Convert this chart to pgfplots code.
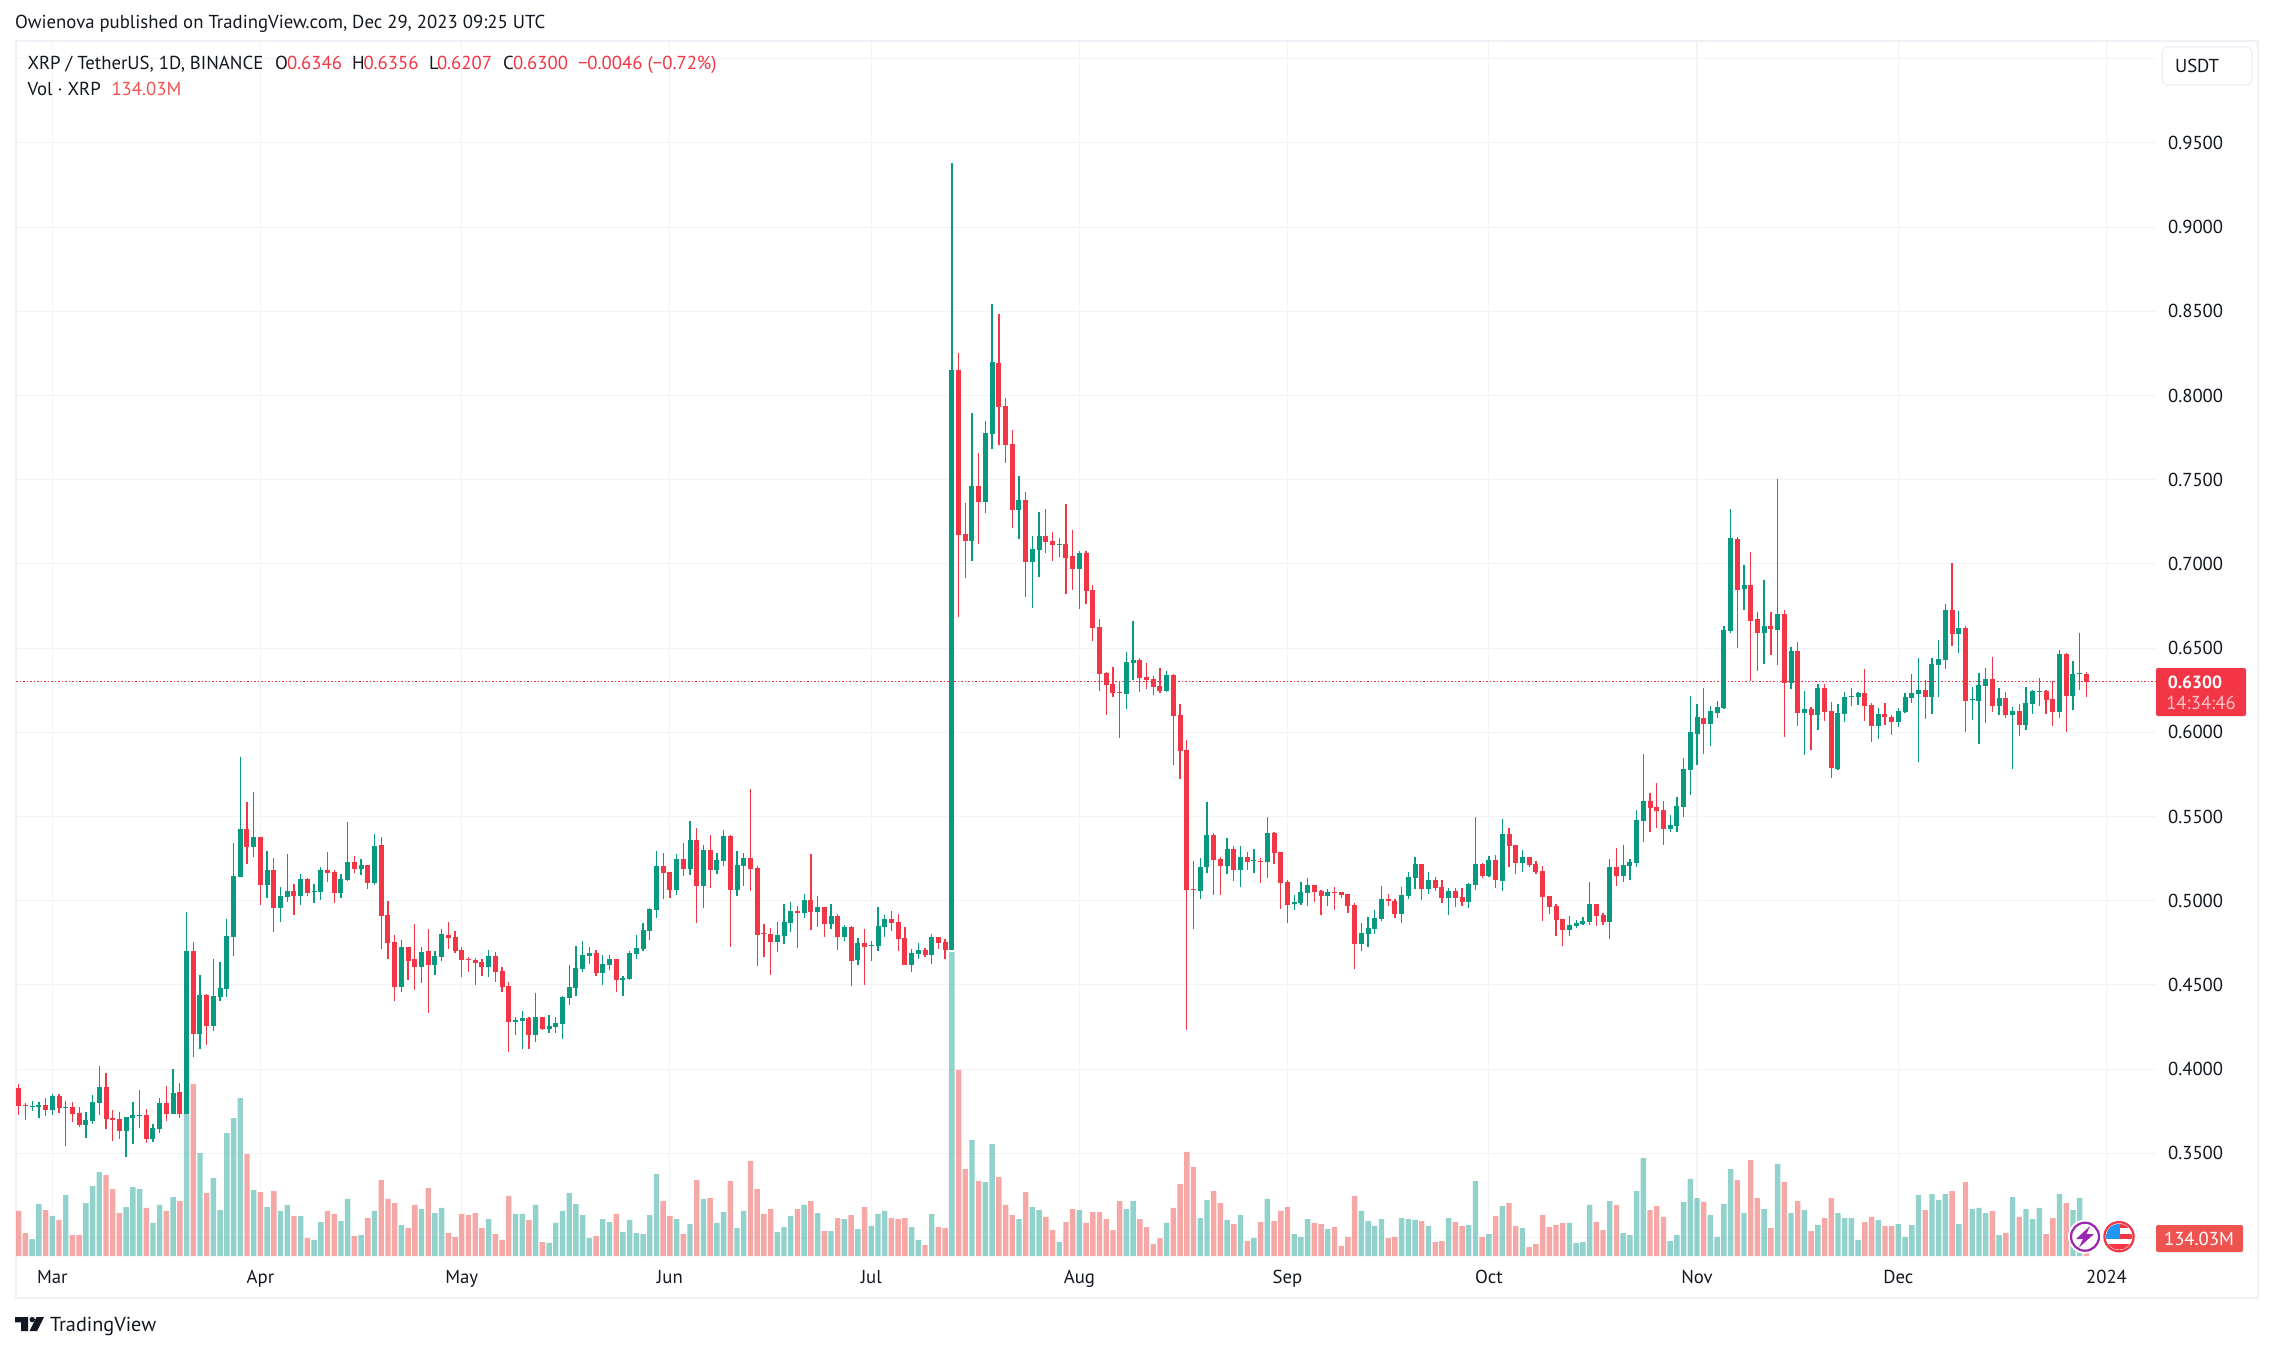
\documentclass[border=0pt]{standalone}
\usepackage{pgfplots}
\usepackage{pgfplotstable}
\usepackage{fontspec}
\pgfplotsset{compat=1.18}
\setmainfont{PT Sans}
\definecolor{upc}{HTML}{089981}
\definecolor{dnc}{HTML}{F23645}
\definecolor{vup}{HTML}{26A69A}
\definecolor{vdn}{HTML}{EF5350}
\definecolor{gridc}{HTML}{F3F4F6}
\definecolor{framec}{HTML}{F0F0F7}
\definecolor{txt}{HTML}{131722}
\pgfplotstableread{
d o h l c v
-5 0.3887 0.3911 0.3727 0.3780 345
-4 0.3788 0.3798 0.3697 0.3780 176
-3 0.3774 0.3810 0.3750 0.3780 130
-2 0.3774 0.3804 0.3709 0.3786 398
-1 0.3786 0.3828 0.3721 0.3757 352
0 0.3757 0.3851 0.3727 0.3840 306
1 0.3840 0.3851 0.3739 0.3768 276
2 0.3768 0.3810 0.3543 0.3774 467
3 0.3774 0.3804 0.3685 0.3733 161
4 0.3739 0.3774 0.3655 0.3667 161
5 0.3667 0.3744 0.3590 0.3697 406
6 0.3691 0.3846 0.3673 0.3804 536
7 0.3798 0.4018 0.3727 0.3893 643
8 0.3893 0.3976 0.3644 0.3703 620
9 0.3709 0.3757 0.3572 0.3697 513
10 0.3703 0.3744 0.3584 0.3632 329
11 0.3632 0.3715 0.3477 0.3715 375
12 0.3709 0.3804 0.3554 0.3727 528
13 0.3721 0.3875 0.3649 0.3727 513
14 0.3727 0.3762 0.3560 0.3584 368
15 0.3584 0.3673 0.3566 0.3649 253
16 0.3644 0.3828 0.3620 0.3798 391
17 0.3798 0.3899 0.3691 0.3733 345
18 0.3733 0.4000 0.3733 0.3857 452
19 0.3863 0.3917 0.3709 0.3733 421
20 0.3733 0.4933 0.3733 0.4701 1586
21 0.4701 0.4754 0.4071 0.4208 1318
22 0.4208 0.4558 0.4119 0.4440 789
23 0.4440 0.4445 0.4142 0.4255 483
24 0.4255 0.4653 0.4226 0.4434 597
25 0.4428 0.4636 0.4404 0.4481 352
26 0.4475 0.4891 0.4428 0.4790 942
27 0.4784 0.5342 0.4671 0.5146 1057
28 0.5140 0.5853 0.5140 0.5426 1210
29 0.5426 0.5586 0.5218 0.5319 781
30 0.5319 0.5645 0.5259 0.5378 505
31 0.5378 0.5378 0.4974 0.5093 490
32 0.5093 0.5295 0.5016 0.5182 375
33 0.5182 0.5253 0.4814 0.4956 498
34 0.4956 0.5081 0.4873 0.5028 345
35 0.5022 0.5277 0.4992 0.5057 391
36 0.5057 0.5099 0.4915 0.5028 306
37 0.5028 0.5158 0.4974 0.5129 306
38 0.5129 0.5134 0.5028 0.5045 138
39 0.5051 0.5099 0.4986 0.5057 123
40 0.5051 0.5200 0.5004 0.5182 260
41 0.5182 0.5289 0.5111 0.5164 345
42 0.5170 0.5182 0.4986 0.5045 322
43 0.5045 0.5158 0.5016 0.5129 268
44 0.5123 0.5467 0.5117 0.5230 437
45 0.5230 0.5265 0.5164 0.5188 153
46 0.5188 0.5247 0.5152 0.5212 161
47 0.5212 0.5212 0.5069 0.5105 291
48 0.5105 0.5396 0.5093 0.5325 345
49 0.5331 0.5378 0.4713 0.4909 582
50 0.4915 0.4998 0.4653 0.4748 437
51 0.4754 0.4796 0.4404 0.4487 406
52 0.4487 0.4766 0.4457 0.4725 237
53 0.4725 0.4725 0.4529 0.4641 214
54 0.4653 0.4861 0.4469 0.4606 391
55 0.4606 0.4725 0.4511 0.4695 360
56 0.4701 0.4832 0.4333 0.4618 521
57 0.4618 0.4701 0.4558 0.4671 329
58 0.4665 0.4832 0.4641 0.4802 368
59 0.4796 0.4873 0.4713 0.4778 176
60 0.4784 0.4820 0.4689 0.4701 146
61 0.4707 0.4725 0.4546 0.4647 322
62 0.4653 0.4665 0.4576 0.4647 314
63 0.4647 0.4659 0.4499 0.4630 329
64 0.4636 0.4653 0.4552 0.4606 214
65 0.4606 0.4707 0.4546 0.4671 283
66 0.4671 0.4695 0.4517 0.4576 168
67 0.4582 0.4606 0.4457 0.4487 123
68 0.4493 0.4517 0.4101 0.4279 460
69 0.4279 0.4309 0.4202 0.4291 322
70 0.4285 0.4344 0.4119 0.4303 322
71 0.4303 0.4309 0.4119 0.4202 276
72 0.4202 0.4451 0.4160 0.4309 391
73 0.4309 0.4309 0.4231 0.4237 107
74 0.4237 0.4321 0.4214 0.4255 100
75 0.4249 0.4309 0.4214 0.4273 253
76 0.4267 0.4433 0.4178 0.4427 345
77 0.4421 0.4617 0.4380 0.4487 483
78 0.4481 0.4730 0.4433 0.4600 398
79 0.4594 0.4760 0.4576 0.4677 314
80 0.4671 0.4724 0.4623 0.4689 138
81 0.4689 0.4707 0.4552 0.4570 153
82 0.4570 0.4677 0.4499 0.4623 283
83 0.4618 0.4677 0.4588 0.4653 260
84 0.4653 0.4653 0.4457 0.4528 322
85 0.4528 0.4552 0.4433 0.4540 184
86 0.4534 0.4701 0.4528 0.4689 276
87 0.4683 0.4796 0.4653 0.4719 176
88 0.4713 0.4867 0.4701 0.4825 168
89 0.4819 0.4956 0.4766 0.4950 314
90 0.4944 0.5295 0.4897 0.5206 628
91 0.5206 0.5283 0.5010 0.5164 421
92 0.5170 0.5170 0.5015 0.5063 306
93 0.5063 0.5277 0.5033 0.5247 283
94 0.5247 0.5342 0.5146 0.5188 168
95 0.5188 0.5473 0.5152 0.5360 245
96 0.5360 0.5431 0.4867 0.5087 582
97 0.5087 0.5330 0.4956 0.5301 437
98 0.5301 0.5390 0.5075 0.5182 444
99 0.5182 0.5283 0.5158 0.5241 253
100 0.5235 0.5419 0.5206 0.5384 337
101 0.5384 0.5390 0.4724 0.5063 574
102 0.5063 0.5295 0.5027 0.5211 214
103 0.5206 0.5283 0.5087 0.5253 345
104 0.5253 0.5663 0.5057 0.5188 728
105 0.5194 0.5206 0.4612 0.4796 513
106 0.4808 0.4861 0.4665 0.4802 322
107 0.4802 0.4837 0.4558 0.4754 360
108 0.4754 0.4873 0.4695 0.4796 184
109 0.4790 0.4980 0.4742 0.4873 222
110 0.4867 0.4992 0.4814 0.4938 306
111 0.4938 0.4968 0.4718 0.4926 360
112 0.4926 0.5039 0.4897 0.5004 391
113 0.5004 0.5277 0.4825 0.4932 421
114 0.4932 0.5027 0.4843 0.4962 329
115 0.4962 0.4962 0.4784 0.4861 191
116 0.4861 0.4980 0.4831 0.4909 191
117 0.4909 0.4920 0.4707 0.4784 291
118 0.4784 0.4855 0.4760 0.4843 283
119 0.4843 0.4849 0.4493 0.4641 314
120 0.4647 0.4778 0.4617 0.4748 207
121 0.4748 0.4831 0.4499 0.4724 375
122 0.4730 0.4760 0.4641 0.4736 230
123 0.4730 0.4962 0.4701 0.4849 322
124 0.4843 0.4914 0.4784 0.4891 345
125 0.4891 0.4938 0.4819 0.4867 291
126 0.4873 0.4920 0.4701 0.4772 283
127 0.4778 0.4843 0.4617 0.4617 291
128 0.4617 0.4713 0.4576 0.4689 222
129 0.4683 0.4748 0.4653 0.4707 123
130 0.4707 0.4718 0.4665 0.4677 84
131 0.4677 0.4802 0.4623 0.4784 322
132 0.4784 0.4784 0.4713 0.4748 222
133 0.4754 0.4772 0.4653 0.4707 214
134 0.4707 0.9378 0.4707 0.8154 2329
135 0.8154 0.8253 0.6686 0.7174 1425
136 0.7179 0.7362 0.6918 0.7137 666
137 0.7137 0.7898 0.7019 0.7463 888
138 0.7463 0.7661 0.7120 0.7369 574
139 0.7369 0.7851 0.7304 0.7780 567
140 0.7773 0.8546 0.7684 0.8201 858
141 0.8196 0.8485 0.7708 0.7933 605
142 0.7940 0.7987 0.7602 0.7708 391
143 0.7715 0.7797 0.7214 0.7322 314
144 0.7322 0.7524 0.7149 0.7381 283
145 0.7381 0.7428 0.6806 0.7012 490
146 0.7012 0.7163 0.6740 0.7090 375
147 0.7085 0.7311 0.6923 0.7163 352
148 0.7163 0.7327 0.7062 0.7132 299
149 0.7137 0.7191 0.7019 0.7113 199
150 0.7113 0.7156 0.7043 0.7120 107
151 0.7120 0.7358 0.6822 0.7036 260
152 0.7048 0.7203 0.6846 0.6972 360
153 0.6972 0.7078 0.6733 0.7066 352
154 0.7066 0.7078 0.6763 0.6841 253
155 0.6846 0.6876 0.6542 0.6620 337
156 0.6627 0.6674 0.6247 0.6348 337
157 0.6355 0.6357 0.6103 0.6282 283
158 0.6289 0.6390 0.6211 0.6235 199
159 0.6242 0.6301 0.5967 0.6235 421
160 0.6228 0.6479 0.6141 0.6418 360
161 0.6413 0.6662 0.6312 0.6430 421
162 0.6430 0.6441 0.6242 0.6324 283
163 0.6329 0.6413 0.6258 0.6312 222
164 0.6317 0.6336 0.6223 0.6270 92
165 0.6277 0.6383 0.6235 0.6247 138
166 0.6247 0.6366 0.6242 0.6340 253
167 0.6340 0.6348 0.5806 0.6099 368
168 0.6103 0.6169 0.5723 0.5889 551
169 0.5895 0.5954 0.4232 0.5063 797
170 0.5069 0.5235 0.4832 0.5063 682
171 0.5057 0.5253 0.5010 0.5200 291
172 0.5200 0.5586 0.5164 0.5390 429
173 0.5390 0.5402 0.5033 0.5241 498
174 0.5247 0.5259 0.5033 0.5206 406
175 0.5206 0.5372 0.5158 0.5307 276
176 0.5307 0.5325 0.5117 0.5182 245
177 0.5182 0.5325 0.5081 0.5259 314
178 0.5259 0.5289 0.5182 0.5230 115
179 0.5235 0.5307 0.5164 0.5241 138
180 0.5235 0.5253 0.5105 0.5230 260
181 0.5230 0.5497 0.5134 0.5402 437
182 0.5402 0.5408 0.5218 0.5283 268
183 0.5289 0.5289 0.4950 0.5105 345
184 0.5111 0.5123 0.4867 0.4974 375
185 0.4980 0.5033 0.4944 0.4992 168
186 0.4986 0.5111 0.4974 0.5051 146
187 0.5045 0.5134 0.4968 0.5093 283
188 0.5093 0.5093 0.4992 0.5051 253
189 0.5057 0.5063 0.4915 0.5028 245
190 0.5028 0.5069 0.4968 0.5051 207
191 0.5051 0.5081 0.4944 0.5045 222
192 0.5051 0.5051 0.5016 0.5033 77
193 0.5039 0.5039 0.4927 0.4968 146
194 0.4974 0.4986 0.4594 0.4742 460
195 0.4742 0.4867 0.4701 0.4808 345
196 0.4802 0.4903 0.4725 0.4837 268
197 0.4832 0.4944 0.4802 0.4897 230
198 0.4891 0.5087 0.4879 0.5010 283
199 0.5010 0.5039 0.4968 0.4998 138
200 0.4998 0.5010 0.4897 0.4921 146
201 0.4921 0.5081 0.4867 0.5033 291
202 0.5028 0.5170 0.5010 0.5140 283
203 0.5134 0.5259 0.5069 0.5218 276
204 0.5218 0.5218 0.5004 0.5069 268
205 0.5069 0.5170 0.5039 0.5123 230
206 0.5123 0.5140 0.5057 0.5075 107
207 0.5081 0.5123 0.4986 0.5016 115
208 0.5016 0.5075 0.4915 0.5057 291
209 0.5057 0.5075 0.4962 0.5016 260
210 0.5022 0.5075 0.4968 0.4992 230
211 0.4992 0.5105 0.4956 0.5099 237
212 0.5093 0.5497 0.5063 0.5218 574
213 0.5218 0.5224 0.5134 0.5146 146
214 0.5146 0.5265 0.5140 0.5241 168
215 0.5241 0.5271 0.5075 0.5123 306
216 0.5117 0.5485 0.5057 0.5396 383
217 0.5396 0.5431 0.5200 0.5325 406
218 0.5331 0.5331 0.5158 0.5224 230
219 0.5224 0.5301 0.5170 0.5259 214
220 0.5259 0.5259 0.5200 0.5212 69
221 0.5218 0.5235 0.5158 0.5170 92
222 0.5176 0.5206 0.4879 0.5022 314
223 0.5028 0.5028 0.4921 0.4962 222
224 0.4968 0.4980 0.4790 0.4885 237
225 0.4891 0.4891 0.4731 0.4826 253
226 0.4826 0.4909 0.4790 0.4855 253
227 0.4849 0.4885 0.4838 0.4867 100
228 0.4861 0.4903 0.4855 0.4879 107
229 0.4873 0.5111 0.4855 0.4980 391
230 0.4980 0.4980 0.4849 0.4909 260
231 0.4915 0.4927 0.4855 0.4873 199
232 0.4873 0.5247 0.4772 0.5200 421
233 0.5200 0.5313 0.5087 0.5146 391
234 0.5146 0.5331 0.5111 0.5212 176
235 0.5206 0.5247 0.5123 0.5230 161
236 0.5224 0.5538 0.5200 0.5479 498
237 0.5473 0.5871 0.5348 0.5592 751
238 0.5592 0.5639 0.5408 0.5550 352
239 0.5556 0.5699 0.5431 0.5532 383
240 0.5538 0.5592 0.5331 0.5426 299
241 0.5426 0.5509 0.5408 0.5449 115
242 0.5443 0.5616 0.5408 0.5562 161
243 0.5556 0.5847 0.5497 0.5782 414
244 0.5776 0.6216 0.5627 0.6002 590
245 0.5990 0.6168 0.5806 0.6091 444
246 0.6085 0.6263 0.5871 0.6049 414
247 0.6049 0.6156 0.5919 0.6126 314
248 0.6115 0.6186 0.6085 0.6150 146
249 0.6144 0.6631 0.6138 0.6608 398
250 0.6602 0.7326 0.6590 0.7154 666
251 0.7148 0.7160 0.6501 0.6845 582
252 0.6851 0.6994 0.6726 0.6875 329
253 0.6875 0.7071 0.6305 0.6661 735
254 0.6673 0.6715 0.6364 0.6590 444
255 0.6590 0.6905 0.6406 0.6631 360
256 0.6631 0.6715 0.6459 0.6614 214
257 0.6608 0.7503 0.6400 0.6703 705
258 0.6703 0.6726 0.5972 0.6293 567
259 0.6293 0.6507 0.6257 0.6483 329
260 0.6483 0.6536 0.6037 0.6115 421
261 0.6115 0.6245 0.5865 0.6138 352
262 0.6138 0.6150 0.5895 0.6103 191
263 0.6103 0.6287 0.6014 0.6263 237
264 0.6263 0.6287 0.6067 0.6120 291
265 0.6126 0.6180 0.5728 0.5788 444
266 0.5782 0.6168 0.5776 0.6115 329
267 0.6109 0.6239 0.6061 0.6210 291
268 0.6210 0.6263 0.6156 0.6216 291
269 0.6210 0.6239 0.6162 0.6233 123
270 0.6233 0.6376 0.6067 0.6156 260
271 0.6162 0.6174 0.5942 0.6037 299
272 0.6037 0.6144 0.5960 0.6109 276
273 0.6109 0.6174 0.6043 0.6091 230
274 0.6091 0.6103 0.5984 0.6061 230
275 0.6061 0.6144 0.6031 0.6126 245
276 0.6120 0.6233 0.6115 0.6210 146
277 0.6204 0.6346 0.6174 0.6233 237
278 0.6227 0.6441 0.5824 0.6251 467
279 0.6251 0.6311 0.6079 0.6210 352
280 0.6210 0.6441 0.6109 0.6406 475
281 0.6400 0.6548 0.6210 0.6435 429
282 0.6429 0.6762 0.6376 0.6726 475
283 0.6726 0.7006 0.6513 0.6584 498
284 0.6584 0.6720 0.6471 0.6619 245
285 0.6619 0.6631 0.6002 0.6186 567
286 0.6192 0.6269 0.6073 0.6198 360
287 0.6186 0.6352 0.5930 0.6281 368
288 0.6275 0.6382 0.6055 0.6317 329
289 0.6317 0.6447 0.6120 0.6156 345
290 0.6156 0.6263 0.6103 0.6204 161
291 0.6204 0.6239 0.6085 0.6103 176
292 0.6103 0.6150 0.5782 0.6126 452
293 0.6126 0.6168 0.5978 0.6043 299
294 0.6043 0.6269 0.6014 0.6174 360
295 0.6168 0.6251 0.6109 0.6245 283
296 0.6239 0.6322 0.6156 0.6245 368
297 0.6245 0.6251 0.6109 0.6192 168
298 0.6198 0.6305 0.6037 0.6120 291
299 0.6120 0.6489 0.6085 0.6465 475
300 0.6465 0.6471 0.6002 0.6216 406
301 0.6216 0.6423 0.6132 0.6346 352
302 0.6346 0.6590 0.6251 0.6352 444
303 0.6346 0.6356 0.6207 0.6300 134.03
}\ohlc
\pgfplotsset{
  chartbox/.style={
    at={(6.4pt,-502.4pt)}, anchor=south west, scale only axis,
    width=856pt, height=485.6pt,
    xmin=-5.407, xmax=313.38, clip=true},
  priceaxis/.style={ymin=0.28902, ymax=1.00992},
  upbar/.style={error bars/.cd, y dir=minus, y explicit, error mark=none,
    error bar style={color=upc, line width=#1}},
  dnbar/.style={error bars/.cd, y dir=minus, y explicit, error mark=none,
    error bar style={color=dnc, line width=#1}},
}
\newcommand\tf{\fontsize{7.5}{9}\selectfont}
\begin{document}
\begin{tikzpicture}[x=0.4pt,y=-0.4pt,every node/.style={inner sep=0pt,outer sep=0pt}]
\fill[white] (0,0) rectangle (2273,1351);
\draw[framec,line width=0.8pt] (15.5,41.5) rectangle (2257.5,1298);
% grid and tick labels
\begin{axis}[chartbox, priceaxis,
  axis line style={draw=none}, major tick length=0pt,
  grid=major, grid style={gridc,line width=0.45pt},
  xtick={0,31,61,92,122,153,184,214,245,275,306},
  xticklabels={Mar,Apr,May,Jun,Jul,Aug,Sep,Oct,Nov,Dec,2024},
  ytick={0.30,0.35,0.40,0.45,0.50,0.55,0.60,0.65,0.70,0.75,0.80,0.85,0.90,0.95,1.00},
  yticklabels={,0.3500,0.4000,0.4500,0.5000,0.5500,0.6000,0.6500,0.7000,0.7500,0.8000,0.8500,0.9000,0.9500,},
  yticklabel pos=right,
  tick label style={font=\tf,text=txt},
  y tick label style={anchor=west,xshift=4.8pt},
  ytick style={draw=none},xtick style={draw=none},
  x tick label style={anchor=center,yshift=-8.8pt,text height=5pt,text depth=1pt},
]
\end{axis}
% volume
\begin{axis}[chartbox, hide axis, ymin=0, ymax=9299, ybar, bar width=2.16pt]
\addplot[bar shift=0pt,draw=none,fill=vup,fill opacity=0.5,forget plot]
  table[x=d,y expr={\thisrow{c}>=\thisrow{o} ? \thisrow{v} : nan}] {\ohlc};
\addplot[bar shift=0pt,draw=none,fill=vdn,fill opacity=0.5,forget plot]
  table[x=d,y expr={\thisrow{c}<\thisrow{o} ? \thisrow{v} : nan}] {\ohlc};
\end{axis}
% candles
\begin{axis}[chartbox, priceaxis, hide axis]
\addplot[dnc,line width=0.5pt,dash pattern=on 0.6pt off 0.8pt,forget plot] coordinates {(-5.407,0.63) (313.38,0.63)};
\addplot[draw=none,mark=none,forget plot,upbar=0.52pt]
  table[x=d,y expr={\thisrow{c}>=\thisrow{o} ? \thisrow{h} : nan},y error minus expr=\thisrow{h}-\thisrow{l}] {\ohlc};
\addplot[draw=none,mark=none,forget plot,dnbar=0.52pt]
  table[x=d,y expr={\thisrow{c}<\thisrow{o} ? \thisrow{h} : nan},y error minus expr=\thisrow{h}-\thisrow{l}] {\ohlc};
\addplot[draw=none,mark=none,forget plot,upbar=2pt]
  table[x=d,y expr={\thisrow{c}>=\thisrow{o} ? \thisrow{c} : nan},y error minus expr=\thisrow{c}-\thisrow{o}] {\ohlc};
\addplot[draw=none,mark=none,forget plot,dnbar=2pt]
  table[x=d,y expr={\thisrow{c}<\thisrow{o} ? \thisrow{o} : nan},y error minus expr=\thisrow{o}-\thisrow{c}] {\ohlc};
\end{axis}
% header
\begingroup\tf\color{txt}
\node[anchor=base west] at (15,29) {Owienova published on TradingView.com, Dec 29, 2023 09:25 UTC};
\node[anchor=base west] at (27.5,70) {XRP / TetherUS, 1D, BINANCE};
\node[anchor=base west] at (275,70) {O};
\node[anchor=base west,text=dnc] at (287,70) {0.6346};
\node[anchor=base west] at (352,70) {H};
\node[anchor=base west,text=dnc] at (363.5,70) {0.6356};
\node[anchor=base west] at (429,70) {L};
\node[anchor=base west,text=dnc] at (437,70) {0.6207};
\node[anchor=base west] at (503,70) {C};
\node[anchor=base west,text=dnc] at (513,70) {0.6300};
\node[anchor=base west,text=dnc] at (578,70) {−0.0046 (−0.72\%)};
\node[anchor=base west] at (27.5,96) {Vol · XRP};
\node[anchor=base west,text=vdn] at (111.5,96) {134.03M};
% USDT button
\draw[framec,line width=0.6pt,fill=white,rounded corners=2.4pt] (2162,47) rectangle (2252,85);
\node at (2197,66) {USDT};
% tags
\fill[dnc,rounded corners=0.8pt] (2156,668) rectangle (2246,716);
\node[text=white] at (2195,682) {\fontsize{7.05}{8.5}\selectfont\textbf{0.6300}};
\node[text=white,opacity=0.7] at (2201,703) {14:34:46};
\fill[vdn,rounded corners=0.8pt] (2156,1225) rectangle (2243,1252);
\node[text=white] at (2199,1238.5) {134.03M};
\endgroup
% icons
\fill[white] (2085,1236.7) circle (17);
\draw[color={rgb,255:red,156;green,39;blue,176},line width=0.9pt] (2085,1236.7) circle (14);
\fill[color={rgb,255:red,156;green,39;blue,176}] (2090,1226) -- (2076,1239) -- (2083,1239) -- (2079,1247.5) -- (2094,1234) -- (2086.5,1234) -- cycle;
\fill[white] (2119,1236.7) circle (18);
\begin{scope}
\clip (2119,1236.7) circle (13);
\fill[white] (2100,1220) rectangle (2140,1255);
\fill[dnc] (2100,1233.5) rectangle (2140,1239);
\fill[dnc] (2100,1244) rectangle (2140,1255);
\fill[dnc] (2120,1223) rectangle (2140,1228);
\fill[color={rgb,255:red,33;green,150;blue,243}] (2100,1220) rectangle (2120,1239);
\end{scope}
\draw[dnc,line width=0.9pt] (2119,1236.7) circle (14.6);
% logo
\fill[txt] (15,1317) rectangle (28,1322.3) (21,1317) rectangle (28,1331);
\fill[txt] (32.2,1319.6) circle (2.7);
\fill[txt] (36.5,1317) -- (44,1317) -- (37,1331) -- (29.5,1331) -- cycle;
\node[anchor=base west,text=txt] at (50,1331.5) {\fontsize{8.1}{10}\selectfont TradingView};
\end{tikzpicture}
\end{document}
